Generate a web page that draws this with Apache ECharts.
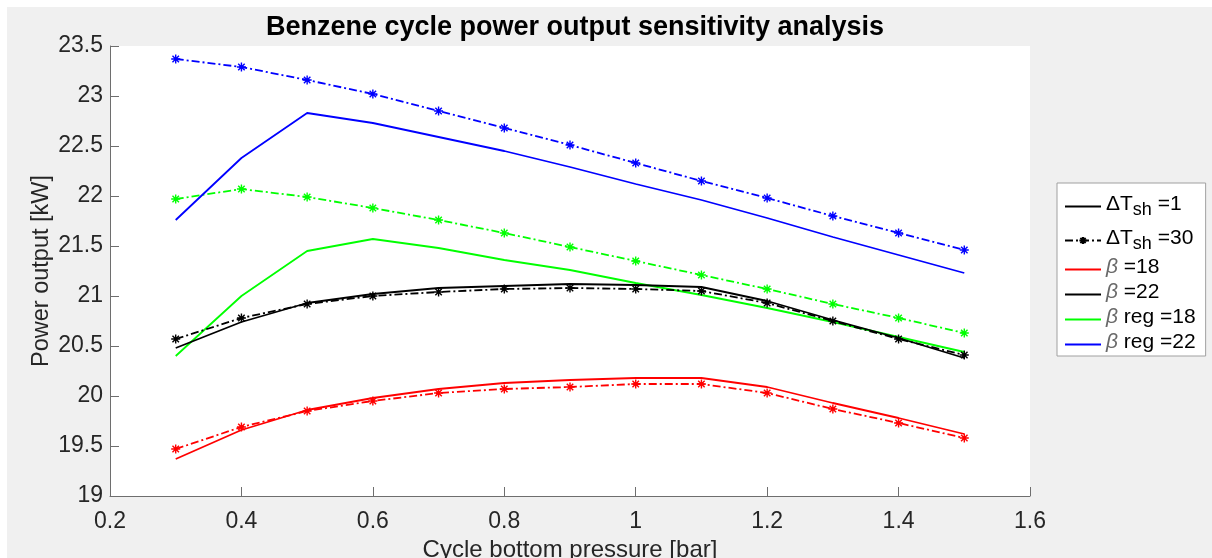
<!DOCTYPE html>
<html>
<head>
<meta charset="utf-8">
<script src="https://cdn.jsdelivr.net/npm/echarts@6/dist/echarts.min.js"></script>
<style>
  html, body { margin: 0; padding: 0; background: #fff; }
  #main { width: 1212px; height: 558px; }
</style>
</head>
<body>
<div id="main"></div>
<script>
// cycle bottom pressure [bar]
var pressure = [0.3, 0.4, 0.5, 0.6, 0.7, 0.8, 0.9, 1.0, 1.1, 1.2, 1.3, 1.4, 1.5];

// power output [kW], solid = dT_sh 1, dash-dot = dT_sh 30
var betaReg22_dT1  = [21.76, 22.38, 22.83, 22.73, 22.59, 22.45, 22.29, 22.12, 21.96, 21.78, 21.59, 21.41, 21.23];
var betaReg22_dT30 = [23.37, 23.29, 23.16, 23.02, 22.85, 22.68, 22.51, 22.33, 22.15, 21.98, 21.80, 21.63, 21.46];
var betaReg18_dT1  = [20.40, 21.00, 21.45, 21.57, 21.48, 21.36, 21.26, 21.13, 21.01, 20.88, 20.74, 20.59, 20.44];
var betaReg18_dT30 = [21.97, 22.07, 21.99, 21.88, 21.76, 21.63, 21.49, 21.35, 21.21, 21.07, 20.92, 20.78, 20.63];
var beta22_dT1     = [20.48, 20.74, 20.93, 21.02, 21.08, 21.10, 21.12, 21.11, 21.09, 20.95, 20.76, 20.58, 20.38];
var beta22_dT30    = [20.57, 20.78, 20.92, 21.00, 21.04, 21.07, 21.08, 21.07, 21.05, 20.93, 20.75, 20.57, 20.41];
var beta18_dT1     = [19.37, 19.66, 19.86, 19.98, 20.07, 20.13, 20.16, 20.18, 20.18, 20.09, 19.93, 19.78, 19.62];
var beta18_dT30    = [19.47, 19.69, 19.85, 19.95, 20.03, 20.07, 20.09, 20.12, 20.12, 20.03, 19.87, 19.73, 19.58];

var legendNames = ['dT1', 'dT30', 'b18', 'b22', 'br18', 'br22'];
var legendLabels = {
  dT1:  '{d|ΔT}{s|sh}{t| =1}',
  dT30: '{d|ΔT}{s|sh}{t| =30}',
  b18:  '{b|β}{t| =18}',
  b22:  '{b|β}{t| =22}',
  br18: '{b|β}{t| reg =18}',
  br22: '{b|β}{t| reg =22}'
};

var FONT = 'Liberation Sans, Arial, sans-serif';
var ASTERISK = 'path://M0,-5L0,5M-5,0L5,0M-3.6,-3.6L3.6,3.6M-3.6,3.6L3.6,-3.6';
var DASHDOT = [8, 3, 2, 3];

function pairs(ys) {
  return pressure.map(function (p, i) { return [p, ys[i]]; });
}

function solidLine(name, color, ys) {
  return {
    name: name, type: 'line', data: pairs(ys),
    symbol: 'none', silent: true, animation: false,
    lineStyle: { color: color, width: 1.8 }
  };
}

function dashLine(name, color, ys) {
  return {
    name: name, type: 'line', data: pairs(ys),
    symbol: ASTERISK, symbolSize: 9, showSymbol: true, silent: true, animation: false,
    itemStyle: { color: color, borderColor: color, borderWidth: 1.4 },
    lineStyle: { color: color, width: 1.8, type: DASHDOT }
  };
}

// empty series, only there for the legend entries
function legendOnly(name, color, dashed) {
  if (dashed) {
    return {
      name: name, type: 'line', data: [],
      symbol: ASTERISK, symbolSize: 9,
      itemStyle: { color: color, borderColor: color, borderWidth: 1.4 },
      lineStyle: { color: color, width: 1.8, type: DASHDOT }
    };
  }
  return {
    name: name, type: 'line', data: [],
    symbol: 'circle', symbolSize: 0,
    itemStyle: { color: 'rgba(0,0,0,0)', borderWidth: 0 },
    lineStyle: { color: color, width: 1.8 }
  };
}

var chart = echarts.init(document.getElementById('main'));

var option = {
  backgroundColor: '#f0f0f0',
  animation: false,
  graphic: [
    { type: 'rect', left: 0, top: 0, shape: { width: 1212, height: 7 }, style: { fill: '#fff' }, silent: true },
    { type: 'rect', left: 0, top: 0, shape: { width: 7, height: 558 }, style: { fill: '#fff' }, silent: true }
  ],
  title: {
    text: 'Benzene cycle power output sensitivity analysis',
    left: 570, top: 9, textAlign: 'center',
    textStyle: { fontFamily: FONT, fontSize: 27, fontWeight: 'bold', color: '#000' }
  },
  grid: {
    left: 110, right: 182, top: 46, bottom: 62,
    outerBoundsMode: 'none',
    show: true, backgroundColor: '#fff', borderWidth: 0
  },
  legend: {
    data: legendNames,
    orient: 'vertical',
    left: 1057, top: 183,
    padding: [6, 10, 3, 7],
    itemWidth: 36, itemHeight: 9, itemGap: 4,
    backgroundColor: '#fff',
    borderColor: '#a0a0a0', borderWidth: 1,
    selectedMode: false,
    formatter: function (n) { return legendLabels[n]; },
    textStyle: {
      fontFamily: FONT, fontSize: 21, color: '#000',
      rich: {
        d: { fontFamily: FONT, fontSize: 21, lineHeight: 25, verticalAlign: 'top', color: '#000' },
        s: { fontFamily: FONT, fontSize: 18, lineHeight: 18, padding: [12, 0, 0, 0], verticalAlign: 'bottom', color: '#000' },
        t: { fontFamily: FONT, fontSize: 21, lineHeight: 25, verticalAlign: 'top', color: '#000' },
        b: { fontFamily: FONT, fontSize: 21, lineHeight: 25, verticalAlign: 'top', fontStyle: 'italic', color: '#6a6a6a' }
      }
    }
  },
  xAxis: {
    type: 'value', min: 0.2, max: 1.6, interval: 0.2,
    name: 'Cycle bottom pressure [bar]',
    nameLocation: 'middle', nameGap: 40,
    nameTextStyle: { fontFamily: FONT, fontSize: 24, color: '#262626' },
    axisLine: { show: true, lineStyle: { color: '#6e6e6e', width: 1 } },
    axisTick: { show: true, inside: true, length: 9, lineStyle: { color: '#6e6e6e' } },
    axisLabel: { fontFamily: FONT, fontSize: 23, color: '#262626', margin: 14 },
    splitLine: { show: false }
  },
  yAxis: {
    type: 'value', min: 19, max: 23.5, interval: 0.5,
    name: 'Power output [kW]',
    nameLocation: 'middle', nameGap: 56, nameMoveOverlap: false,
    nameTextStyle: { fontFamily: FONT, fontSize: 23.5, color: '#262626' },
    axisLine: { show: true, lineStyle: { color: '#6e6e6e', width: 1 } },
    axisTick: { show: true, inside: true, length: 9, lineStyle: { color: '#6e6e6e' } },
    axisLabel: { fontFamily: FONT, fontSize: 23, color: '#262626', margin: 7 },
    splitLine: { show: false }
  },
  series: [
    solidLine('s_br18', '#00ff00', betaReg18_dT1),
    dashLine('d_br18', '#00ff00', betaReg18_dT30),
    solidLine('s_br22', '#0000ff', betaReg22_dT1),
    dashLine('d_br22', '#0000ff', betaReg22_dT30),
    solidLine('s_b18', '#ff0000', beta18_dT1),
    dashLine('d_b18', '#ff0000', beta18_dT30),
    solidLine('s_b22', '#000000', beta22_dT1),
    dashLine('d_b22', '#000000', beta22_dT30),
    legendOnly('dT1', '#000000', false),
    legendOnly('dT30', '#000000', true),
    legendOnly('b18', '#ff0000', false),
    legendOnly('b22', '#000000', false),
    legendOnly('br18', '#00ff00', false),
    legendOnly('br22', '#0000ff', false)
  ]
};

chart.setOption(option);
</script>
</body>
</html>
